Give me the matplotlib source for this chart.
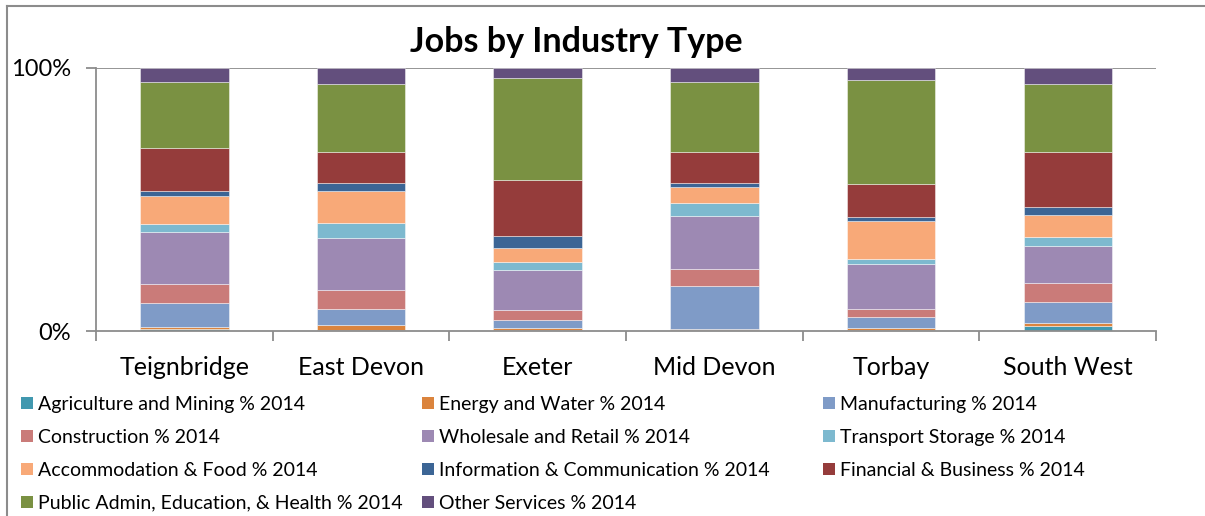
import numpy as np
import matplotlib
matplotlib.use("Agg")
import matplotlib.pyplot as plt
from matplotlib.lines import Line2D

plt.rcParams['font.family'] = ['Lato', 'DejaVu Sans']

# Données (en %)
regions = ["Teignbridge", "East Devon", "Exeter", "Mid Devon", "Torbay", "South West"]

agriculture = [0.9, 0.3, 0.2, 0.2, 0.2, 1.8]
energy = [0.6, 1.9, 1.0, 0.7, 0.9, 1.1]
manufacturing = [9.2, 6.3, 3.0, 16.2, 4.2, 8.0]
construction = [7.1, 7.3, 3.9, 6.5, 3.2, 7.2]
wholesale = [20.0, 19.6, 15.2, 20.4, 16.9, 14.4]
transport = [2.9, 5.8, 3.0, 4.6, 1.9, 3.4]
accommodation = [10.5, 12.3, 5.4, 6.3, 14.6, 8.1]
information = [1.9, 2.8, 4.2, 1.4, 1.3, 3.0]
financial = [16.6, 12.1, 21.5, 12.0, 12.8, 21.1]
public_admin = [25.2, 25.9, 38.6, 26.7, 39.7, 25.9]
other = [5.2, 6.0, 3.9, 5.2, 4.4, 6.0]

series_labels = [
    "Agriculture and Mining % 2014", "Energy and Water % 2014", "Manufacturing % 2014",
    "Construction % 2014", "Wholesale and Retail % 2014", "Transport Storage % 2014",
    "Accommodation & Food % 2014", "Information & Communication % 2014",
    "Financial & Business % 2014", "Public Admin, Education, & Health % 2014",
    "Other Services % 2014",
]
series = [agriculture, energy, manufacturing, construction, wholesale, transport,
          accommodation, information, financial, public_admin, other]
colors = ["#4198AF", "#DB843D", "#7F9BC7", "#CA7B79", "#9D89B3", "#7DB9CF",
          "#F8A978", "#3C6595", "#953C3B", "#7A9142", "#634F7D"]

W, H = 1205, 516
fig = plt.figure(figsize=(W / 100, H / 100), dpi=100)
ax = fig.add_axes([96 / W, 1 - 331 / H, (1156 - 96) / W, (331 - 68) / H])

data = np.array(series, dtype=float)
data = data / data.sum(axis=0) * 100
x = np.arange(len(regions))
bottom = np.zeros(len(regions))
handles = []
for vals, col, lab in zip(data, colors, series_labels):
    b = ax.bar(x, vals, 0.5, bottom=bottom, color=col, edgecolor=(1, 1, 1, 0.45),
               linewidth=0.7, label=lab)
    handles.append(b)
    bottom += vals

grey = "#8c8c8c"
ax.set_xlim(-0.5, len(regions) - 0.5)
ax.set_ylim(0, 100)
ax.axhline(100, color=grey, lw=1.3, zorder=0)
for s in ["top", "right"]:
    ax.spines[s].set_visible(False)
for s in ["left", "bottom"]:
    ax.spines[s].set_color(grey)
    ax.spines[s].set_linewidth(1.3)

ax.set_yticks([0, 100])
ax.set_yticklabels(["0%", "100%"], fontsize=17)
ax.set_xticks(x)
ax.set_xticklabels(regions, fontsize=18)
ax.set_xticks(np.arange(len(regions) + 1) - 0.5, minor=True)
ax.tick_params(axis="x", which="major", length=0, pad=18)
ax.tick_params(axis="x", which="minor", length=7, width=1.3, color=grey)
ax.tick_params(axis="y", length=7, width=1.3, color=grey, pad=11)

fig.text(576 / W, 1 - 42 / H, "Jobs by Industry Type", ha="center", va="center",
         fontsize=24.5, fontweight="bold")

# cadre extérieur (gauche et haut visibles)
fig.add_artist(Line2D([7 / W, 7 / W], [0, 1 - 6 / H], transform=fig.transFigure,
                      color=grey, lw=1.5))
fig.add_artist(Line2D([7 / W, 1], [1 - 6 / H, 1 - 6 / H], transform=fig.transFigure,
                      color=grey, lw=1.5))

# légende en trois colonnes, ordre par lignes
col_x = [21, 422, 823]
for c in range(3):
    idx = list(range(c, len(series), 3))
    leg = fig.legend([handles[i] for i in idx], [series_labels[i] for i in idx],
                     loc="upper left", bbox_to_anchor=(col_x[c] / W, 1 - 396 / H),
                     frameon=False, fontsize=14, borderpad=0, borderaxespad=0,
                     handlelength=0.6, handleheight=0.6, handletextpad=0.25,
                     labelspacing=0.82)
    for h in leg.legend_handles:
        h.set_edgecolor("none")

fig.savefig("out.png", dpi=100)
